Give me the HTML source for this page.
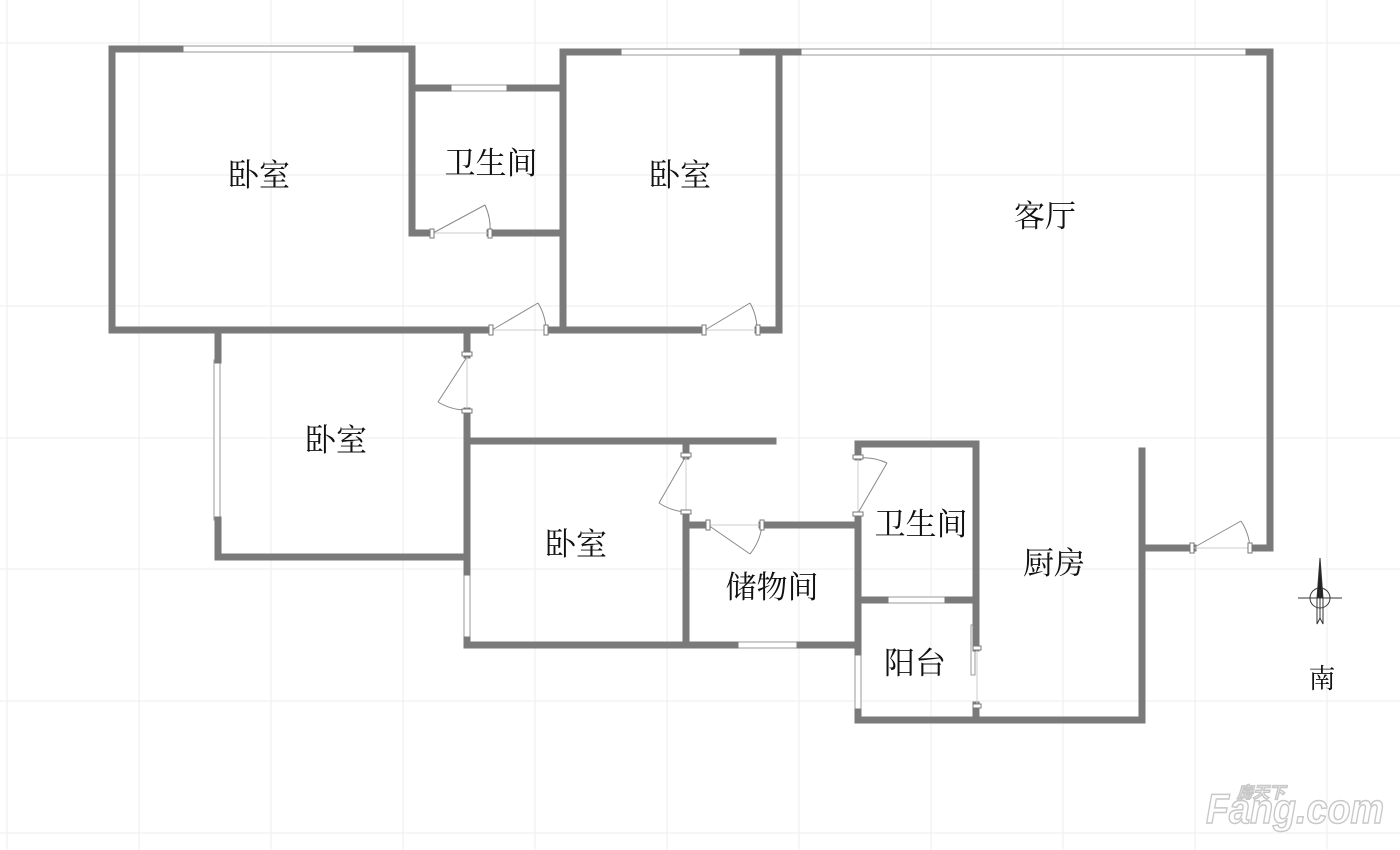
<!DOCTYPE html>
<html><head><meta charset="utf-8"><style>
html,body{margin:0;padding:0;background:#fff;}
svg{display:block;}
text{font-family:"Liberation Serif","Noto Serif CJK SC","Noto Sans CJK SC",serif;fill:#111;}
</style></head><body>
<svg width="1400" height="850" viewBox="0 0 1400 850" xmlns="http://www.w3.org/2000/svg">
<g stroke="#eeeeee" stroke-width="1">
<line x1="7" y1="0" x2="7" y2="850"/><line x1="139" y1="0" x2="139" y2="850"/><line x1="271" y1="0" x2="271" y2="850"/><line x1="403" y1="0" x2="403" y2="850"/><line x1="535" y1="0" x2="535" y2="850"/><line x1="667" y1="0" x2="667" y2="850"/><line x1="799" y1="0" x2="799" y2="850"/><line x1="931" y1="0" x2="931" y2="850"/><line x1="1063" y1="0" x2="1063" y2="850"/><line x1="1195" y1="0" x2="1195" y2="850"/><line x1="1327" y1="0" x2="1327" y2="850"/>
<line x1="0" y1="43" x2="1400" y2="43"/><line x1="0" y1="175" x2="1400" y2="175"/><line x1="0" y1="306" x2="1400" y2="306"/><line x1="0" y1="438" x2="1400" y2="438"/><line x1="0" y1="569" x2="1400" y2="569"/><line x1="0" y1="701" x2="1400" y2="701"/><line x1="0" y1="833" x2="1400" y2="833"/>
</g>
<g fill="#fff" stroke="#999" stroke-width="1">
<rect x="180" y="46" width="177" height="6"/>
<rect x="448" y="85" width="62" height="6"/>
<rect x="618" y="49" width="125" height="6"/>
<rect x="800" y="49" width="446" height="6"/>
<rect x="214" y="360" width="6" height="160"/>
<rect x="464" y="572" width="6" height="68"/>
<rect x="735" y="642" width="65" height="6"/>
<rect x="885" y="597" width="63" height="6"/>
<rect x="855" y="652" width="6" height="60"/>
<rect x="971" y="625" width="4" height="50"/>
</g>
<g stroke="#7a7a7a" stroke-width="7" fill="none" stroke-linecap="square">
<polyline points="180,49 112,49 112,330 490,330"/>
<polyline points="357,49 412,49 412,233 430,233"/>
<line x1="412" y1="88" x2="448" y2="88"/><line x1="510" y1="88" x2="563" y2="88"/>
<line x1="490" y1="233" x2="563" y2="233"/>
<polyline points="563,330 563,52 618,52"/>
<line x1="743" y1="52" x2="798" y2="52"/>
<polyline points="547,330 703,330"/>
<polyline points="758,330 779,330 779,52"/>
<polyline points="1249,52 1270,52 1270,548 1251,548"/>
<polyline points="1193,548 1142,548"/>
<polyline points="218,360 218,333"/>
<polyline points="218,520 218,557 467,557"/>
<polyline points="467,333 467,355"/>
<polyline points="467,411 467,572"/>
<line x1="467" y1="441" x2="773" y2="441"/>
<polyline points="467,640 467,645 735,645"/>
<polyline points="800,645 858,645"/>
<line x1="686" y1="441" x2="686" y2="456"/>
<polyline points="686,515 686,645"/>
<polyline points="686,525 706,525"/>
<line x1="762" y1="525" x2="858" y2="525"/>
<polyline points="858,457 858,444 976,444 976,648"/>
<line x1="858" y1="515" x2="858" y2="652"/>
<line x1="858" y1="600" x2="885" y2="600"/><line x1="948" y1="600" x2="976" y2="600"/>
<polyline points="858,712 858,720 1142,720 1142,451"/>
<line x1="976" y1="705" x2="976" y2="720"/>
</g>
<g stroke="#888" stroke-width="1" fill="none">
<line x1="433" y1="233" x2="485" y2="205"/><path d="M485,205 A57,57 0 0 1 490,233"/>
<line x1="433" y1="233" x2="490" y2="233" stroke="#ccc"/>
<line x1="492" y1="330" x2="538" y2="303"/><path d="M538,303 A55,55 0 0 1 546,330"/>
<line x1="492" y1="330" x2="546" y2="330" stroke="#ccc"/>
<line x1="705" y1="330" x2="750" y2="303"/><path d="M750,303 A55,55 0 0 1 757,330"/>
<line x1="705" y1="330" x2="757" y2="330" stroke="#ccc"/>
<line x1="467" y1="357" x2="438" y2="402"/><path d="M438,402 A55,55 0 0 0 467,410"/>
<line x1="467" y1="357" x2="467" y2="410" stroke="#ccc"/>
<line x1="686" y1="456" x2="659" y2="503"/><path d="M659,503 A55,55 0 0 0 686,512"/>
<line x1="686" y1="456" x2="686" y2="512" stroke="#ccc"/>
<line x1="708" y1="525" x2="750" y2="554"/><path d="M750,554 A55,55 0 0 0 762,525"/>
<line x1="708" y1="525" x2="762" y2="525" stroke="#ccc"/>
<line x1="858" y1="513" x2="887" y2="463"/><path d="M887,463 A55,55 0 0 0 858,458"/>
<line x1="858" y1="458" x2="858" y2="513" stroke="#ccc"/>
<line x1="1193" y1="548" x2="1241" y2="521"/><path d="M1241,521 A55,55 0 0 1 1250,548"/>
<line x1="1193" y1="548" x2="1250" y2="548" stroke="#ccc"/>
<line x1="977" y1="650" x2="977" y2="705" stroke="#ccc"/>
</g>
<g fill="#fff" stroke="#777" stroke-width="1">
<rect x="430" y="229" width="4" height="9"/><rect x="488" y="229" width="4" height="9"/>
<rect x="489" y="325" width="4" height="10"/><rect x="544" y="325" width="4" height="10"/>
<rect x="702" y="325" width="4" height="10"/><rect x="756" y="325" width="4" height="10"/>
<rect x="462" y="352" width="10" height="4"/><rect x="462" y="409" width="10" height="4"/>
<rect x="681" y="453" width="10" height="4"/><rect x="681" y="510" width="10" height="4"/>
<rect x="706" y="520" width="4" height="10"/><rect x="760" y="520" width="4" height="10"/>
<rect x="853" y="455" width="10" height="4"/><rect x="853" y="512" width="10" height="4"/>
<rect x="1190" y="543" width="4" height="10"/><rect x="1248" y="543" width="4" height="10"/>
<rect x="973" y="646" width="8" height="4"/><rect x="973" y="704" width="8" height="4"/>
</g>
<g stroke="#333" stroke-width="1" fill="none">
<circle cx="1320" cy="598" r="10"/>
<line x1="1298" y1="598" x2="1342" y2="598"/>
<path d="M1320,558 L1323,598 L1317,598 Z" fill="#222"/>
<path d="M1317,598 L1317,624 L1320,618 L1323,624 L1323,598"/>
<line x1="1320" y1="590" x2="1320" y2="618"/>
</g>
<g font-size="31" text-anchor="middle">
<text x="259" y="186">卧室</text>
<text x="491" y="174">卫生间</text>
<text x="680" y="186">卧室</text>
<text x="1045" y="227">客厅</text>
<text x="336" y="451">卧室</text>
<text x="576" y="555">卧室</text>
<text x="772" y="598">储物间</text>
<text x="921" y="535">卫生间</text>
<text x="1054" y="574">厨房</text>
<text x="915" y="674">阳台</text>
<text x="1322" y="688" font-size="27">南</text>
</g>
<g font-weight="bold" font-style="italic" stroke="#c8c8c8" stroke-width="1.5">
<text x="1206" y="823" font-size="42" textLength="178" lengthAdjust="spacingAndGlyphs" style="font-family:'Liberation Sans',sans-serif;fill:#fff">Fang.com</text>
<text x="1237" y="798" font-size="16" style="font-family:'Liberation Sans','Noto Sans CJK SC',sans-serif;fill:#fff">房天下</text>
</g>
</svg>
</body></html>
